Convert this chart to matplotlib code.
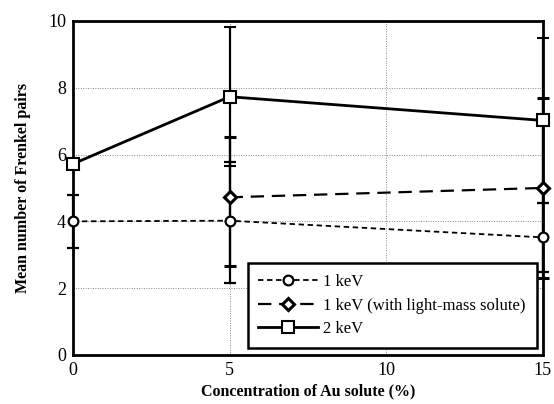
import matplotlib
matplotlib.use("Agg")
import matplotlib.pyplot as plt
import numpy as np

conc = [0, 5, 15]
kev1 = [4.0, 4.02, 3.52]
kev1_lo = [0.8, 1.86, 1.03]
kev1_hi = [0.8, 1.77, 1.02]

conc_light = [5, 15]
kev1_light = [4.72, 5.0]
kev1_light_lo = [2.06, 2.7]
kev1_light_hi = [1.8, 2.7]

kev2 = [5.72, 7.73, 7.02]
kev2_lo = [0.0, 2.07, 2.47]
kev2_hi = [0.0, 2.08, 2.46]

labels = ["1 keV", "1 keV (with light-mass solute)", "2 keV"]
xticks = [0, 5, 10, 15]
yticks = [0, 2, 4, 6, 8, 10]

plt.rcParams['font.family'] = ['Liberation Serif', 'DejaVu Serif']

fig = plt.figure(figsize=(5.54, 4.04), dpi=100)
ax = fig.add_axes([0.1318, 0.1213, 0.848, 0.827])

ax.grid(True, linestyle=(0, (1, 1.5)), color='#888888', linewidth=0.7)
ax.set_axisbelow(True)

common = dict(color='black', ecolor='black', elinewidth=1.6, capsize=4, capthick=1.6,
              markeredgecolor='black', markerfacecolor='white', clip_on=False, zorder=3)

ax.errorbar(conc, kev1, yerr=[kev1_lo, kev1_hi], fmt='o', linestyle=(0, (3, 2)),
            linewidth=1.3, markersize=7, markeredgewidth=1.6, label=labels[0], **common)
ax.errorbar(conc_light, kev1_light, yerr=[kev1_light_lo, kev1_light_hi], fmt='D',
            linestyle=(0, (6, 3.5)), linewidth=1.6, markersize=6, markeredgewidth=2.2,
            label=labels[1], **common)
ax.errorbar(conc, kev2, yerr=[kev2_lo, kev2_hi], fmt='s', linestyle='-',
            linewidth=2.0, markersize=8, markeredgewidth=1.5, label=labels[2], **common)

ax.set_xlim(0, 15)
ax.set_ylim(0, 10)
ax.set_xticks(xticks)
ax.set_yticks(yticks)
ax.tick_params(axis='both', labelsize=13, length=0, pad=5)
for s in ax.spines.values():
    s.set_linewidth(2.0)

ax.set_xlabel("Concentration of Au solute (%)", fontsize=11.5, fontweight='bold', labelpad=3)
ax.set_ylabel("Mean number of Frenkel pairs", fontsize=11.5, fontweight='bold', labelpad=12)

handles, labs = ax.get_legend_handles_labels()
handles = [h[0] for h in handles]
leg = ax.legend(handles, labs, loc='lower right', bbox_to_anchor=(0.987, 0.021),
                borderaxespad=0, fontsize=12, frameon=True, fancybox=False,
                edgecolor='black', framealpha=1, handlelength=3.6, borderpad=0.65,
                labelspacing=0.45, handletextpad=0.3)
leg.get_frame().set_linewidth(1.8)

fig.savefig("out.png", dpi=100)
